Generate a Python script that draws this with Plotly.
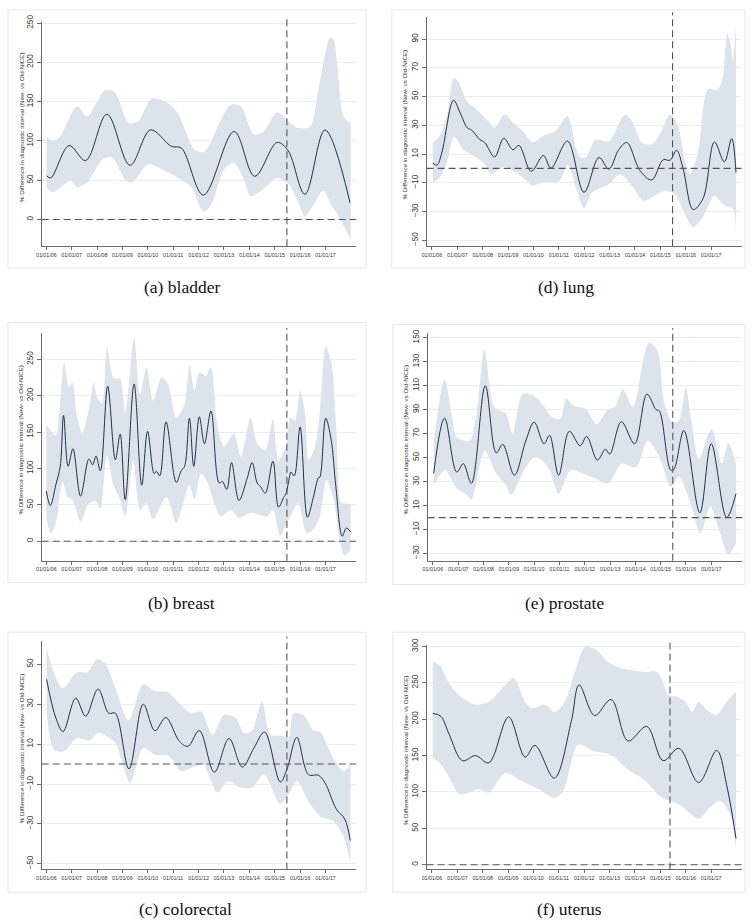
import plotly.graph_objects as go

# ---------------- data (decimal years, % difference) ----------------
tick_years = [2006, 2007, 2008, 2009, 2010, 2011, 2012, 2013, 2014, 2015, 2016, 2017]
tick_labels = ["01/01/06", "01/01/07", "01/01/08", "01/01/09", "01/01/10", "01/01/11",
               "01/01/12", "01/01/13", "01/01/14", "01/01/15", "01/01/16", "01/01/17"]

bladder_x = [2006.01, 2006.18, 2006.90, 2007.55, 2008.39, 2009.30, 2010.11, 2010.93, 2011.32, 2012.19,
             2013.40, 2014.21, 2015.09, 2015.52, 2016.19, 2016.98, 2017.97]
bladder_y = [55.5, 53, 94, 75, 134, 69, 114, 93, 91, 31, 112, 55, 98, 88, 32, 114, 21]
bladder_up_x = [2006.01, 2006.25, 2006.51, 2007.22, 2007.61, 2008.33, 2008.72, 2009.24, 2009.63, 2010.15,
                2010.80, 2011.19, 2011.84, 2012.23, 2012.88, 2013.27, 2013.66, 2014.18, 2014.57, 2015.09,
                2015.54, 2015.87, 2016.39, 2016.72, 2017.17, 2017.30, 2017.50, 2017.69, 2017.95, 2017.99]
bladder_up_y = [106, 100, 104, 144, 131, 165, 161, 123, 125, 154, 148, 135, 89, 86, 127, 146, 144, 108, 112, 136,
                125, 117, 118, 165, 231, 230, 186, 133, 123, 127]
bladder_lo_x = [2006.01, 2006.25, 2006.64, 2006.96, 2007.22, 2007.61, 2008.20, 2008.59, 2009.11, 2009.37,
                2010.02, 2010.54, 2011.19, 2011.71, 2012.19, 2012.49, 2013.01, 2013.40, 2013.79, 2014.05,
                2014.57, 2015.09, 2015.54, 2015.93, 2016.19, 2016.52, 2016.91, 2017.24, 2017.50, 2017.99]
bladder_lo_y = [41, 34.5, 43, 50, 41, 47, 76, 79, 51, 47, 70, 64, 53, 41, 10, 18, 64, 72, 51, 30,
                39, 53, 45, 22, 4, 18, 37, 18, 5, -26]

lung_x = [2006.03, 2006.20, 2006.39, 2006.85, 2007.11, 2007.39, 2007.56, 2007.89, 2008.08, 2008.47, 2008.83,
          2009.19, 2009.43, 2009.91, 2010.39, 2010.69, 2011.34, 2011.99, 2012.58, 2012.97, 2013.36, 2013.68,
          2014.20, 2014.66, 2015.11, 2015.38, 2015.64, 2015.90, 2016.29, 2016.68, 2017.13, 2017.52, 2017.81, 2017.98]
lung_y = [3.7, 2.3, 11, 47.4, 38.7, 28.3, 26.7, 20, 18, 8, 21, 13, 16, -2, 9, 0.2, 19, -16.6, 7.6, -0.5,
          13, 18, -1.6, -8, 6, 5.7, 12.6, -0.5, -28.6, -21, 18.4, 4.6, 20.7, -2.8]
lung_up_x = [2006.03, 2006.26, 2006.59, 2006.85, 2007.04, 2007.37, 2007.76, 2008.21, 2008.47, 2008.86, 2009.26,
             2009.58, 2009.97, 2010.36, 2010.88, 2011.34, 2011.79, 2012.05, 2012.45, 2012.97, 2013.60, 2013.88,
             2014.27, 2014.66, 2014.98, 2015.38, 2015.70, 2015.96, 2016.16, 2016.48, 2016.87, 2017.26, 2017.46,
             2017.63, 2017.76, 2017.85, 2017.98]
lung_up_y = [18, 21.4, 36.4, 62.8, 60.5, 46.7, 41, 33, 28.3, 37.5, 30.6, 26, 18, 22.5, 26, 36.4, 8.7, 7.6, 20,
             18.8, 37.5, 33, 18, 16.8, 23.7, 37.5, 29.4, 6.4, -4, 11, 54.8, 54.8, 64, 94, 87, 75, 101]
lung_lo_x = [2006.03, 2006.26, 2006.59, 2006.88, 2007.24, 2007.63, 2008.02, 2008.34, 2008.80, 2009.32, 2009.71,
             2009.97, 2010.36, 2011.01, 2011.34, 2011.73, 2011.99, 2012.32, 2012.97, 2013.42, 2013.88, 2014.33,
             2014.79, 2015.18, 2015.57, 2015.96, 2016.29, 2016.68, 2017.13, 2017.52, 2017.85, 2017.98]
lung_lo_y = [-10, -7.4, 4, 22, 13, 8.8, 4, -4, 1.4, -2.8, -8.5, -12, -9.7, -9, 2.3, -16.6, -27.7, -16.6, -10.8,
             -4, -12, -22.4, -19, -15.6, -18, -31.5, -40.8, -34, -19, -25.8, -28, -46.5]

breast_x = [2006.00, 2006.16, 2006.38, 2006.55, 2006.68, 2006.86, 2007.05, 2007.35, 2007.68, 2007.83, 2007.96,
            2008.13, 2008.42, 2008.72, 2008.91, 2009.11, 2009.46, 2009.76, 2009.99, 2010.25, 2010.34, 2010.47,
            2010.72, 2011.12, 2011.32, 2011.45, 2011.64, 2011.81, 2012.03, 2012.23, 2012.49, 2012.81, 2012.94,
            2013.11, 2013.30, 2013.59, 2013.92, 2014.11, 2014.31, 2014.44, 2014.63, 2014.93, 2015.15, 2015.35,
            2015.45, 2015.58, 2015.64, 2015.77, 2016.00, 2016.29, 2016.52, 2016.72, 2016.78, 2017.01, 2017.22,
            2017.41, 2017.66, 2017.82, 2017.99]
breast_y = [69, 49, 78, 103, 173, 103, 127, 62, 113, 105, 117, 97, 213, 112, 147, 57, 216, 77, 151, 93, 96, 90,
            164, 81, 97, 103, 169, 103, 171, 134, 179, 80, 82, 71, 108, 56, 87, 108, 80, 75, 66, 110, 47, 60,
            66, 88, 95, 90, 157, 33, 60, 87, 88, 169, 140, 75, 7, 18, 13]
breast_up_x = [2006.00, 2006.18, 2006.38, 2006.55, 2006.70, 2006.90, 2007.03, 2007.22, 2007.42, 2007.68, 2007.87,
               2008.00, 2008.20, 2008.39, 2008.65, 2008.91, 2009.11, 2009.46, 2009.69, 2009.95, 2010.21, 2010.54,
               2010.80, 2011.12, 2011.45, 2011.64, 2011.84, 2012.03, 2012.29, 2012.49, 2012.75, 2013.01, 2013.40,
               2013.66, 2014.05, 2014.31, 2014.63, 2014.93, 2015.15, 2015.45, 2015.61, 2015.80, 2016.00, 2016.20,
               2016.33, 2016.59, 2016.78, 2017.01, 2017.24, 2017.43, 2017.63, 2017.82, 2017.99]
breast_up_y = [161, 152, 145, 193, 245, 211, 218, 170, 148, 182, 218, 198, 189, 266, 225, 223, 175, 280, 202, 239,
               193, 225, 216, 170, 189, 241, 207, 232, 227, 239, 157, 130, 148, 116, 170, 134, 125, 168, 111, 130,
               170, 166, 207, 175, 111, 130, 180, 268, 245, 152, 52, 52, 50]
breast_lo_x = [2006.00, 2006.18, 2006.38, 2006.64, 2006.83, 2007.03, 2007.35, 2007.68, 2007.94, 2008.13, 2008.39,
               2008.65, 2008.91, 2009.11, 2009.43, 2009.69, 2009.95, 2010.21, 2010.73, 2011.12, 2011.32, 2011.64,
               2011.84, 2012.10, 2012.36, 2012.62, 2012.88, 2013.27, 2013.59, 2014.05, 2014.70, 2014.93, 2015.22,
               2015.41, 2015.61, 2015.93, 2016.26, 2016.52, 2016.78, 2017.04, 2017.30, 2017.56, 2017.76, 2017.99]
breast_lo_y = [34, 11, 25, 82, 61, 57, 27, 52, 55, 45, 118, 77, 57, 34, 111, 43, 52, 30, 61, 25, 43, 77, 57, 93,
               80, 52, 34, 43, 32, 39, 34, 43, 7, 20, 34, 52, 11, 16, 34, 84, 61, 2, -20, -11]

prostate_x = [2006.03, 2006.46, 2006.94, 2007.20, 2007.52, 2008.07, 2008.50, 2008.76, 2009.22, 2009.67, 2010.00,
              2010.39, 2010.61, 2010.97, 2011.39, 2011.82, 2012.08, 2012.50, 2012.82, 2012.99, 2013.45, 2013.97,
              2014.46, 2014.82, 2014.95, 2015.40, 2015.53, 2015.92, 2016.55, 2017.00, 2017.61, 2017.98]
prostate_y = [36.8, 83, 38, 45, 28.5, 110, 54, 61, 35.4, 64, 79.6, 61.6, 68.6, 35.4, 72, 60, 67.7, 48, 57, 53,
              80, 61.6, 103, 90, 89, 39.6, 40.4, 72.7, 4, 61.6, 0, 20]
prostate_up_x = [2006.03, 2006.46, 2006.74, 2006.94, 2007.46, 2007.72, 2008.04, 2008.43, 2008.89, 2009.15, 2009.54,
                 2010.00, 2010.32, 2010.71, 2011.04, 2011.26, 2011.56, 2012.02, 2012.47, 2012.93, 2013.19, 2013.51,
                 2013.90, 2014.36, 2014.55, 2014.88, 2015.14, 2015.47, 2015.73, 2015.99, 2016.18, 2016.51, 2016.83,
                 2017.03, 2017.42, 2017.68, 2017.98]
prostate_up_y = [64.4, 115.5, 86.5, 67, 64.4, 86.5, 140, 92, 86.5, 70, 103, 101.7, 94.8, 83.7, 82.4, 99, 93.4, 91,
                 78, 90.6, 92, 107, 92, 136, 146, 139, 96, 79.6, 81, 108.6, 86.5, 48, 67, 74, 45, 62, 45]
prostate_lo_x = [2006.03, 2006.48, 2006.94, 2007.33, 2007.52, 2008.04, 2008.50, 2008.89, 2009.09, 2009.67, 2010.06,
                 2010.58, 2010.97, 2011.43, 2011.88, 2012.41, 2012.93, 2013.45, 2014.03, 2014.49, 2014.95, 2015.40,
                 2015.73, 2016.18, 2016.57, 2016.96, 2017.35, 2017.68, 2017.98]
prostate_lo_y = [27, 39.6, 24.4, 19, 14.7, 56, 37, 27, 19, 42, 50.6, 41, 20, 39.6, 37, 32.7, 28.5, 45, 42, 64.4,
                 50.6, 25.7, 34, 12, -13, 9, -13, -31, -21]

colorectal_x = [2006.01, 2006.38, 2006.66, 2007.16, 2007.55, 2008.04, 2008.46, 2008.72, 2009.26, 2009.82, 2010.28,
                2010.71, 2011.25, 2011.58, 2012.03, 2012.62, 2013.20, 2013.72, 2014.18, 2014.60, 2015.22, 2015.48,
                2015.87, 2016.33, 2016.72, 2016.98, 2017.43, 2017.76, 2017.98]
colorectal_y = [42.5, 23, 16.3, 33, 24, 37.6, 25.5, 25.5, -2.4, 30, 16.7, 23.3, 11.3, 8.9, 16.8, -4.1, 12.8, -1.5,
                8, 16, -9, -2.7, 13.3, -5.3, -5.6, -9.4, -22.6, -27.6, -38.4]
colorectal_up_x = [2006.01, 2006.25, 2006.64, 2007.22, 2007.61, 2008.00, 2008.33, 2008.72, 2009.24, 2009.82, 2010.28,
                   2010.80, 2011.25, 2011.71, 2012.10, 2012.55, 2013.00, 2013.46, 2013.79, 2014.11, 2014.50, 2014.83,
                   2015.28, 2015.54, 2015.74, 2016.13, 2016.52, 2016.78, 2017.24, 2017.69, 2017.89, 2017.99]
colorectal_up_y = [58.6, 47.8, 38, 46, 46, 52.5, 50.3, 38, 22, 40, 36.6, 36, 30.4, 25.5, 26.3, 14.7, 24.6, 23.3,
                   15.5, 17, 31.3, 14.7, 14.3, 13, 25.5, 24.6, 17, 16.3, 4.6, -3.6, -2, 1.4]
colorectal_lo_x = [2006.01, 2006.31, 2006.70, 2007.22, 2007.68, 2008.07, 2008.72, 2008.98, 2009.30, 2009.82, 2010.28,
                   2010.80, 2011.32, 2011.71, 2012.16, 2012.75, 2013.15, 2013.66, 2014.11, 2014.57, 2015.22, 2015.54,
                   2015.87, 2016.39, 2016.85, 2017.30, 2017.69, 2017.98]
colorectal_lo_y = [26, 7.2, 6.4, 13, 11.7, 15.5, 10.5, 1.4, -9.4, 8, 4.6, 4.4, -3.6, -2, -0.2, -14.3, -8.5, -11.8,
                   -11.8, -5.2, -20, -15.2, -8.5, -20, -26.8, -28.4, -35.7, -49]

uterus_x = [2006.03, 2006.35, 2006.68, 2007.20, 2007.72, 2008.24, 2009.02, 2009.67, 2010.06, 2010.82, 2011.49,
            2011.80, 2012.41, 2013.06, 2013.73, 2014.46, 2015.11, 2015.73, 2016.51, 2017.22, 2017.61, 2017.98]
uterus_y = [208, 204, 179, 143, 150, 140, 203, 148, 164, 119, 197, 247, 205, 227, 170, 190, 143, 160, 113, 157,
            110, 36]
uterus_up_x = [2006.03, 2006.35, 2006.68, 2007.20, 2007.72, 2008.24, 2008.89, 2009.22, 2009.67, 2009.93, 2010.45,
               2010.84, 2011.23, 2011.63, 2012.02, 2012.41, 2012.93, 2013.45, 2013.97, 2014.36, 2014.88, 2015.34,
               2015.66, 2015.99, 2016.25, 2016.51, 2016.83, 2017.22, 2017.61, 2017.98]
uterus_up_y = [280, 272, 249, 229, 220, 224, 247, 257, 224, 215, 220, 210, 224, 265, 299, 297, 279, 270, 267, 265,
               265, 233, 231, 224, 210, 224, 213, 206, 224, 238]
uterus_lo_x = [2006.03, 2006.35, 2006.68, 2007.07, 2007.52, 2007.85, 2008.24, 2008.89, 2009.54, 2010.19, 2010.84,
               2011.17, 2011.76, 2012.41, 2013.06, 2013.71, 2014.36, 2014.95, 2015.34, 2015.73, 2016.18, 2016.51,
               2016.96, 2017.35, 2017.74, 2017.98]
uterus_lo_y = [147, 138, 120, 97, 100, 104, 99, 126, 115, 104, 92, 101, 165, 156, 151, 131, 117, 95, 88, 83, 70, 63,
               79, 88, 70, 20]

guideline_date = 2015.48
guideline_date_uterus = 2015.38

y_title = "% Difference in diagnostic interval (New- vs Old-NICE)"

# ---------------- layout geometry (pixels) ----------------
W, H = 753, 921
LINE_C = "#22324a"
BAND_C = "#dde3ea"
AXIS_C = "#6b6b6b"
GRID_C = "#e9eef2"
FRAME_C = "#e3e7eb"
DASH_C = "#555555"

panels = [
    dict(caption="(a) bladder", lx=bladder_x, ly=bladder_y, ux=bladder_up_x, uy=bladder_up_y,
         bx=bladder_lo_x, by=bladder_lo_y, box=(36, 353, 15, 241), xr=[2005.82, 2018.21], yr=[-34, 251.5],
         yt=[0, 50, 100, 150, 200, 250], v=guideline_date, frame=(2, 363, 3, 263), cap=(177, 282), tx=15),
    dict(caption="(b) breast", lx=breast_x, ly=breast_y, ux=breast_up_x, uy=breast_up_y,
         bx=breast_lo_x, by=breast_lo_y, box=(36, 353, 328, 558), xr=[2005.82, 2018.21], yr=[-26.9, 286.8],
         yt=[0, 50, 100, 150, 200, 250], v=guideline_date, frame=(2, 363, 318, 580), cap=(177, 601), tx=15),
    dict(caption="(c) colorectal", lx=colorectal_x, ly=colorectal_y, ux=colorectal_up_x, uy=colorectal_up_y,
         bx=colorectal_lo_x, by=colorectal_lo_y, box=(36, 353, 639, 869), xr=[2005.82, 2018.21], yr=[-52.8, 61.6],
         yt=[-50, -30, -10, 10, 30, 50], v=guideline_date, frame=(2, 363, 630, 892), cap=(181, 909), tx=15),
    dict(caption="(d) lung", lx=lung_x, ly=lung_y, ux=lung_up_x, uy=lung_up_y,
         bx=lung_lo_x, by=lung_lo_y, box=(424, 742, 10, 241), xr=[2005.79, 2018.22], yr=[-54.1, 105.4],
         yt=[-50, -30, -10, 10, 30, 50, 70, 90], v=guideline_date, frame=(389, 745, 3, 263), cap=(564, 282), tx=402),
    dict(caption="(e) prostate", lx=prostate_x, ly=prostate_y, ux=prostate_up_x, uy=prostate_up_y,
         bx=prostate_lo_x, by=prostate_lo_y, box=(425, 742, 328, 558), xr=[2005.79, 2018.22], yr=[-36, 154.4],
         yt=[-30, -10, 10, 30, 50, 70, 90, 110, 130, 150], v=guideline_date, frame=(390, 745, 320, 582),
         cap=(563, 601), tx=403),
    dict(caption="(f) uterus", lx=uterus_x, ly=uterus_y, ux=uterus_up_x, uy=uterus_up_y,
         bx=uterus_lo_x, by=uterus_lo_y, box=(424, 742, 643, 869), xr=[2005.79, 2018.22], yr=[-6.4, 301.8],
         yt=[0, 50, 100, 150, 200, 250, 300], v=guideline_date_uterus, frame=(390, 745, 630, 892),
         cap=(568, 909), tx=403),
]

fig = go.Figure()
shapes = []
annotations = []
layout_axes = {}

for i, p in enumerate(panels, start=1):
    xa = "x" if i == 1 else f"x{i}"
    ya = "y" if i == 1 else f"y{i}"
    x0, x1, yt0, yb0 = p["box"]
    # band
    fig.add_trace(go.Scatter(x=p["ux"], y=p["uy"], xaxis=xa, yaxis=ya, mode="lines",
                             line=dict(width=0, shape="spline", smoothing=0.8, color=BAND_C),
                             showlegend=False, hoverinfo="skip"))
    fig.add_trace(go.Scatter(x=p["bx"], y=p["by"], xaxis=xa, yaxis=ya, mode="lines",
                             line=dict(width=0, shape="spline", smoothing=0.8, color=BAND_C),
                             fill="tonexty", fillcolor=BAND_C, showlegend=False, hoverinfo="skip"))
    # estimate line
    fig.add_trace(go.Scatter(x=p["lx"], y=p["ly"], xaxis=xa, yaxis=ya, mode="lines",
                             line=dict(width=1.0, shape="spline", smoothing=1.0, color=LINE_C),
                             showlegend=False))

    xkey = "xaxis" if i == 1 else f"xaxis{i}"
    ykey = "yaxis" if i == 1 else f"yaxis{i}"
    layout_axes[xkey] = dict(
        domain=[x0 / W, x1 / W], anchor=ya, range=p["xr"], tickmode="array",
        tickvals=tick_years, ticktext=tick_labels, tickangle=0,
        tickfont=dict(family="Liberation Sans", size=5.3, color="#333"),
        ticks="outside", ticklen=3, tickcolor=AXIS_C, tickwidth=0.8,
        showline=True, linecolor=AXIS_C, linewidth=1.2, showgrid=False, zeroline=False,
    )
    layout_axes[ykey] = dict(
        domain=[1 - yb0 / H, 1 - yt0 / H], anchor=xa, range=p["yr"], tickmode="array",
        tickvals=p["yt"], tickangle=-90,
        tickfont=dict(family="Liberation Sans", size=8.2, color="#333"),
        ticks="outside", ticklen=4, tickcolor=AXIS_C, tickwidth=0.8,
        showline=True, linecolor=AXIS_C, linewidth=1.2, showgrid=True, gridcolor=GRID_C,
        gridwidth=1, zeroline=False,
    )
    # frame
    fx0, fx1, fy0, fy1 = p["frame"]
    shapes.append(dict(type="rect", xref="paper", yref="paper", x0=fx0 / W, x1=fx1 / W,
                       y0=1 - fy1 / H, y1=1 - fy0 / H, line=dict(color=FRAME_C, width=1),
                       fillcolor="rgba(0,0,0,0)", layer="below"))
    # zero line
    shapes.append(dict(type="line", xref=f"{xa} domain", yref=ya, x0=0, x1=1, y0=0, y1=0,
                       line=dict(color=DASH_C, width=1.1, dash="7px,4px")))
    # guideline vertical line
    shapes.append(dict(type="line", xref=xa, yref=f"{ya} domain", x0=p["v"], x1=p["v"], y0=0, y1=1.02,
                       line=dict(color=DASH_C, width=1.1, dash="7px,4px")))
    # y title
    annotations.append(dict(text=y_title, xref="paper", yref="paper", x=p["tx"] / W,
                            y=1 - ((yt0 + yb0) / 2 - 7) / H, showarrow=False, textangle=-90,
                            font=dict(family="Liberation Sans", size=6.2, color="#333"),
                            xanchor="center", yanchor="middle"))
    # caption
    cx, cy = p["cap"]
    annotations.append(dict(text=p["caption"], xref="paper", yref="paper", x=cx / W, y=1 - cy / H,
                            showarrow=False, font=dict(family="Liberation Serif", size=17.5, color="#111"),
                            xanchor="center", yanchor="middle"))

fig.update_layout(width=W, height=H, margin=dict(l=0, r=0, t=0, b=0),
                  paper_bgcolor="white", plot_bgcolor="white", showlegend=False,
                  shapes=shapes, annotations=annotations, **layout_axes)

fig.write_html("out.html", config={"displayModeBar": False},
               post_script="document.body.style.margin='0';document.body.style.padding='0';")
